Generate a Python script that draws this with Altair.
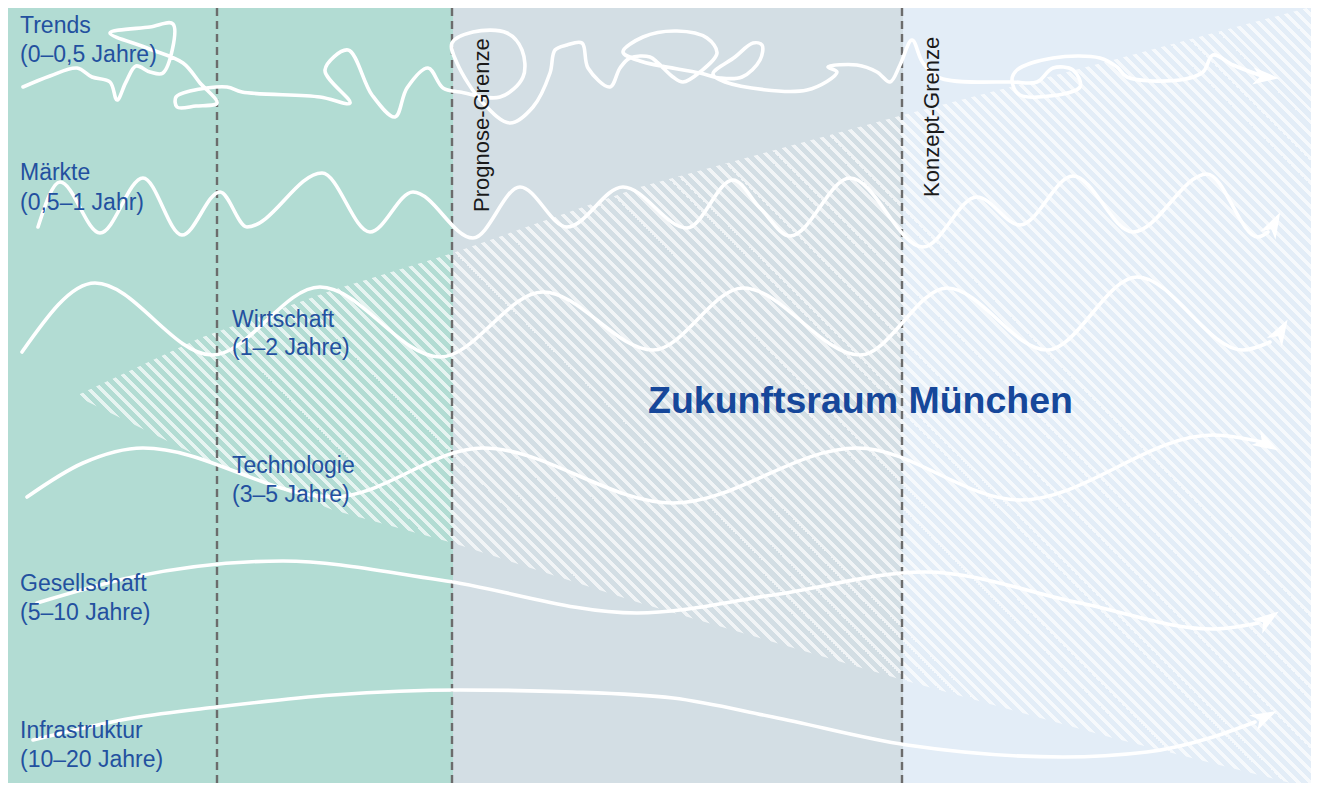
import math
import altair as alt
import pandas as pd

# ---------------- layout (reference pixel coordinate system) ----------------
W, H = 1303, 775
X0, X1 = 8, 1311
Y0, Y1 = 8, 783

# background zones
zone_start = [0, 453, 903]
zone_end = [453, 903, 1330]
zone_color = ["#b2dcd3", "#d3dee4", "#e3edf7"]

# dashed boundaries
boundary_x = [217, 452, 902]

# hatched "Zukunftsraum" band
band_x = [80, 200, 333, 453, 640, 903, 1113, 1318]
band_top = [394, 338, 290, 253, 187, 115, 60, 5]
band_bottom = [398, 457, 510, 543, 603, 680, 738, 790]

# white curves
trends_x = [23, 50, 77, 92, 110, 117, 126, 136, 150, 163, 173, 150, 110, 147, 183, 200, 217, 196, 177, 176,
            190, 227, 242, 320, 350, 325, 348, 372, 395, 407, 428, 443, 460, 500, 523, 522, 507, 473, 452, 457,
            483, 510, 533, 550, 555, 567, 582, 588, 610, 620, 630, 650, 658, 673, 683, 700, 717, 707, 677, 643,
            623, 640, 700, 720, 742, 760, 762, 753, 735, 713, 725, 807, 837, 828, 857, 877, 890, 900, 912, 923,
            940, 1013, 1037, 1053, 1073, 1080, 1020, 1012, 1017, 1053, 1100, 1117, 1127, 1180, 1203, 1213, 1233, 1262]
trends_y = [87, 76, 68, 77, 82, 100, 82, 66, 72, 73, 24, 27, 33, 48, 63, 83, 103, 106, 107, 97,
            91, 87, 92, 97, 103, 70, 50, 95, 117, 88, 68, 88, 92, 97, 77, 50, 33, 32, 43, 63,
            103, 123, 107, 73, 50, 45, 43, 68, 87, 68, 58, 57, 63, 77, 82, 72, 53, 38, 31, 37,
            52, 61, 73, 78, 77, 60, 45, 43, 57, 74, 82, 90, 72, 67, 65, 72, 82, 65, 40, 63,
            78, 82, 82, 68, 70, 87, 95, 80, 70, 58, 58, 67, 77, 80, 72, 55, 65, 76]

markte_x = [38, 60, 100, 143, 182, 220, 247, 322, 370, 413, 473, 520, 567, 623, 687, 733, 760, 790, 850,
            923, 977, 1020, 1073, 1133, 1207, 1258, 1268]
markte_y = [227, 182, 233, 178, 235, 192, 227, 173, 232, 192, 238, 187, 227, 187, 228, 180, 208, 236, 178,
            247, 197, 225, 176, 232, 174, 237, 232]

wirt_x = [22, 95, 212, 320, 440, 543, 653, 743, 860, 947, 1047, 1137, 1243, 1270]
wirt_y = [352, 283, 355, 287, 357, 292, 350, 288, 355, 288, 350, 277, 350, 342]

tech_x = [27, 83, 143, 333, 483, 673, 857, 1020, 1213, 1262]
tech_y = [497, 463, 448, 497, 448, 503, 448, 500, 435, 442]

ges_x = [37, 133, 283, 440, 637, 773, 925, 1080, 1213, 1258]
ges_y = [603, 577, 561, 580, 613, 595, 572, 603, 629, 623]

inf_x = [33, 133, 217, 333, 460, 573, 673, 773, 907, 1063, 1147, 1213, 1255]
inf_y = [740, 718, 707, 695, 690, 692, 698, 717, 745, 757, 752, 737, 722]

# arrow heads
arrow_x = [1266, 1274, 1281, 1267, 1268, 1265]
arrow_y = [77, 224, 331, 444, 619, 717]
arrow_angle = [5, 298, 300, 30, 325, 333]

# labels
label_text = ["Trends", "(0–0,5 Jahre)", "Märkte", "(0,5–1 Jahr)", "Wirtschaft", "(1–2 Jahre)",
              "Technologie", "(3–5 Jahre)", "Gesellschaft", "(5–10 Jahre)", "Infrastruktur", "(10–20 Jahre)"]
label_x = [20, 20, 20, 20, 232, 232, 232, 232, 20, 20, 20, 20]
label_y = [33, 62, 180, 210, 327, 355, 473, 502, 591, 620, 738, 767]

vlabel_text = ["Prognose-Grenze", "Konzept-Grenze"]
vlabel_x = [489, 939]
vlabel_y = [212, 197]

title_text = ["Zukunftsraum München"]
title_x = [648]
title_y = [413]

# ---------------- build ----------------
xs = alt.Scale(domain=[X0, X1], nice=False, zero=False)
ys = alt.Scale(domain=[Y0, Y1], nice=False, zero=False, reverse=True)

bg_df = pd.DataFrame({"x": zone_start, "x2": zone_end, "c": zone_color})
bg = alt.Chart(bg_df).mark_rect(clip=True).encode(
    x=alt.X("x:Q", scale=xs, axis=None), x2="x2:Q",
    y=alt.value(0), y2=alt.value(H),
    color=alt.Color("c:N", scale=None),
)

# stripe gradient (stripes at 45deg in screen space)
bw = max(band_x) - min(band_x)
bh = max(band_bottom) - min(band_top)
k = (bw + bh) / (bw * bw + bh * bh)
period = 12.0
stripe = 4.2
total = bw + bh
stops = []
clear = "rgba(255,255,255,0)"
n = int(math.ceil(total / period))
for i in range(n):
    a = i * period / total
    b = min(1.0, a + stripe / total)
    if a >= 1:
        break
    stops += [{"offset": a, "color": clear}, {"offset": a, "color": "#ffffff"},
              {"offset": b, "color": "#ffffff"}, {"offset": b, "color": clear}]
grad = {"gradient": "linear", "x1": 0, "y1": 1, "x2": k * bw, "y2": 1 - k * bh, "stops": stops}

band_df = pd.DataFrame({"x": band_x, "y": band_top, "y2": band_bottom})
hatch = alt.Chart(band_df).mark_area(clip=True, fill=grad, fillOpacity=0.68).encode(
    x=alt.X("x:Q", scale=xs, axis=None),
    y=alt.Y("y:Q", scale=ys, axis=None), y2="y2:Q",
)

rule_df = pd.DataFrame({"x": boundary_x})
rules = alt.Chart(rule_df).mark_rule(strokeDash=[8, 5], color="#6c6c6c", strokeWidth=2.4).encode(
    x=alt.X("x:Q", scale=xs, axis=None), y=alt.value(0), y2=alt.value(H)
)


def frame(series):
    rows = []
    for name, lx, ly in series:
        for i, (a, b) in enumerate(zip(lx, ly)):
            rows.append({"s": name, "i": i, "x": a, "y": b})
    return pd.DataFrame(rows)


line_style = dict(color="white", strokeWidth=3.6, strokeCap="round", strokeJoin="round", clip=True)
trend_line = alt.Chart(frame([("Trends", trends_x, trends_y)])).mark_line(
    interpolate="catmull-rom", **line_style
).encode(
    x=alt.X("x:Q", scale=xs, axis=None), y=alt.Y("y:Q", scale=ys, axis=None),
    detail="s:N", order="i:Q",
)
wave_lines = alt.Chart(frame([("Märkte", markte_x, markte_y), ("Wirtschaft", wirt_x, wirt_y),
                              ("Technologie", tech_x, tech_y), ("Gesellschaft", ges_x, ges_y),
                              ("Infrastruktur", inf_x, inf_y)])).mark_line(
    interpolate="monotone", **line_style
).encode(
    x=alt.X("x:Q", scale=xs, axis=None), y=alt.Y("y:Q", scale=ys, axis=None),
    detail="s:N", order="i:Q",
)

ARROW = "M1,0L-1,-0.66L-0.45,0L-1,0.66Z"
arrow_df = pd.DataFrame({"x": arrow_x, "y": arrow_y, "a": arrow_angle})
arrows = alt.Chart(arrow_df).mark_point(
    shape=ARROW, filled=True, color="white", size=700, opacity=1, strokeWidth=0
).encode(
    x=alt.X("x:Q", scale=xs, axis=None), y=alt.Y("y:Q", scale=ys, axis=None),
    angle=alt.Angle("a:Q", scale=None),
)

lab_df = pd.DataFrame({"t": label_text, "x": label_x, "y": label_y})
labels = alt.Chart(lab_df).mark_text(
    align="left", baseline="alphabetic", font="Liberation Sans", fontSize=23, color="#23509f"
).encode(x=alt.X("x:Q", scale=xs, axis=None), y=alt.Y("y:Q", scale=ys, axis=None), text="t:N")

vlab_df = pd.DataFrame({"t": vlabel_text, "x": vlabel_x, "y": vlabel_y})
vlabels = alt.Chart(vlab_df).mark_text(
    align="left", baseline="alphabetic", font="Liberation Sans", fontSize=22, color="#1a1a1a", angle=270
).encode(x=alt.X("x:Q", scale=xs, axis=None), y=alt.Y("y:Q", scale=ys, axis=None), text="t:N")

title_df = pd.DataFrame({"t": title_text, "x": title_x, "y": title_y})
title = alt.Chart(title_df).mark_text(
    align="left", baseline="alphabetic", font="Liberation Sans", fontSize=37.5, fontWeight="bold",
    color="#16479a"
).encode(x=alt.X("x:Q", scale=xs, axis=None), y=alt.Y("y:Q", scale=ys, axis=None), text="t:N")

chart = alt.layer(bg, hatch, rules, trend_line, wave_lines, arrows, labels, vlabels, title).properties(
    width=W, height=H, padding=0, autosize=alt.AutoSizeParams(type="none"), background="#ffffff"
).configure_view(stroke=None)

chart.save("out.html", embed_options={"renderer": "svg", "actions": False})
